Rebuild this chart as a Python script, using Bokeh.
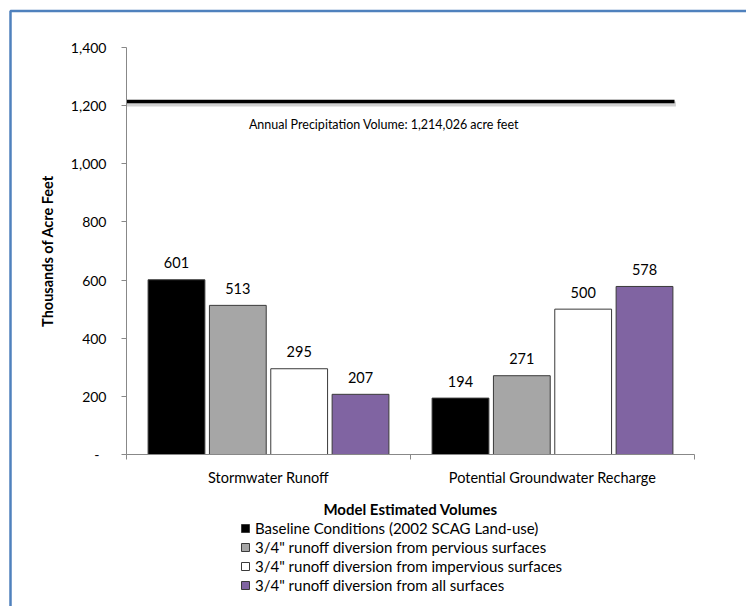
import numpy as np
from bokeh.plotting import figure
from bokeh.models import (Range1d, FixedTicker, NumeralTickFormatter, Legend,
                          LegendItem, Label, ColumnDataSource)
from bokeh.core.properties import value
from bokeh.embed import file_html
from bokeh.resources import INLINE

# ---------------- data ----------------
categories = ["Stormwater Runoff", "Potential Groundwater Recharge"]
series_names = [
    "Baseline Conditions (2002 SCAG Land-use)",
    '3/4" runoff diversion from pervious surfaces',
    '3/4" runoff diversion from impervious surfaces',
    '3/4" runoff diversion from all surfaces',
]
baseline = [601, 194]
pervious = [513, 271]
impervious = [295, 500]
all_surfaces = [207, 578]
series_values = [baseline, pervious, impervious, all_surfaces]
series_colors = ["#000000", "#A6A6A6", "#FFFFFF", "#8064A2"]
y_ticks = [0, 200, 400, 600, 800, 1000, 1200, 1400]
y_max = 1400
precip_volume = 1214.026
precip_label = "Annual Precipitation Volume:  1,214,026 acre feet"
y_title = "Thousands of Acre Feet"
legend_title = "Model Estimated Volumes"

# ---------------- layout (pixels) ----------------
W, H = 746, 606
AX_LEFT, AX_RIGHT = 126, 694      # x-axis extent on the page
AX_TOP, AX_BOTTOM = 47, 454       # y-axis extent on the page
ncat = len(categories)
px_per_x = (AX_RIGHT - AX_LEFT) / ncat
px_per_y = (AX_BOTTOM - AX_TOP) / y_max
x_start = -AX_LEFT / px_per_x
x_end = ncat + (W - AX_RIGHT) / px_per_x
y_start = -(H - AX_BOTTOM) / px_per_y
y_end = y_max + AX_TOP / px_per_y


def xpx(px):
    return x_start + px / px_per_x


def ypx(py):
    return y_end - py / px_per_y


FONT = "Lato"
AXIS_COLOR = "#888888"

p = figure(width=W, height=H, output_backend="svg", toolbar_location=None,
           x_range=Range1d(x_start, x_end), y_range=Range1d(y_start, y_end),
           min_border=0, min_border_left=0, min_border_right=0,
           min_border_top=0, min_border_bottom=0)
p.grid.visible = False
p.outline_line_color = None
p.background_fill_color = "white"
p.border_fill_color = "white"

# y axis (fixed at x = 0)
ya = p.yaxis[0]
ya.fixed_location = 0
ya.bounds = (0, y_max)
ya.ticker = FixedTicker(ticks=y_ticks, minor_ticks=[])
ya.formatter = NumeralTickFormatter(format="0,0")
ya.major_label_overrides = {0: "-\u00a0\u00a0"}
ya.axis_line_color = AXIS_COLOR
ya.major_tick_line_color = AXIS_COLOR
ya.major_tick_out = 5
ya.major_tick_in = 0
ya.major_label_standoff = 15
ya.major_label_text_font = FONT
ya.major_label_text_font_size = "14px"
ya.major_label_text_color = "#000000"
ya.axis_label = y_title
ya.axis_label_text_font = FONT
ya.axis_label_text_font_size = "14.5px"
ya.axis_label_text_font_style = "bold"
ya.axis_label_text_color = "#000000"
ya.axis_label_standoff = 12

# x axis (fixed at y = 0)
xa = p.xaxis[0]
xa.fixed_location = 0
xa.bounds = (0, ncat)
centers = [i + 0.5 for i in range(ncat)]
xa.ticker = FixedTicker(ticks=centers, minor_ticks=list(range(ncat + 1)))
xa.major_label_overrides = {c: lab for c, lab in zip(centers, categories)}
xa.axis_line_color = AXIS_COLOR
xa.major_tick_line_color = None
xa.major_tick_out = 0
xa.major_tick_in = 0
xa.minor_tick_line_color = AXIS_COLOR
xa.minor_tick_out = 5
xa.minor_tick_in = 0
xa.major_label_standoff = 9
xa.major_label_text_font = FONT
xa.major_label_text_font_size = "14.5px"
xa.major_label_text_color = "#000000"

# bars
pitch = 0.216
bar_w = 0.2
items = []
n = len(series_values)
for i, (vals, color, name) in enumerate(zip(series_values, series_colors, series_names)):
    off = (i - (n - 1) / 2) * pitch
    src = ColumnDataSource(dict(
        x=[k + 0.5 + off for k in range(ncat)],
        top=vals,
        label=[str(v) for v in vals],
    ))
    r = p.vbar(x="x", top="top", bottom=0, width=bar_w, fill_color=color,
               line_color="#3A3A3A", line_width=1, source=src)
    p.text(x="x", y="top", text="label", y_offset=-17, text_align="center",
           text_baseline="middle", text_font=value(FONT), text_font_size="14.5px",
           text_color="#000000", source=src)
    items.append(LegendItem(label=name, renderers=[r]))

# precipitation line
line_end = xpx(674)
p.segment(x0=[0], y0=[precip_volume - 8], x1=[line_end + 0.005], y1=[precip_volume - 8],
          line_color="#000000", line_alpha=0.18, line_width=5)
p.segment(x0=[0], y0=[precip_volume], x1=[line_end], y1=[precip_volume],
          line_color="#000000", line_width=3.5)
p.add_layout(Label(x=xpx(385), y=ypx(124), text=precip_label, text_align="center",
                   text_baseline="middle", text_font=FONT,
                   text_font_size="12.5px", text_color="#000000"))

# legend title + legend
p.add_layout(Label(x=ncat / 2, y=ypx(508), text=legend_title, text_align="center",
                   text_baseline="middle", text_font=FONT, text_font_size="15px",
                   text_font_style="bold", text_color="#000000"))
legend = Legend(items=items, location=(240, 12), padding=0, margin=0,
                border_line_color=None, background_fill_alpha=0,
                glyph_width=10, glyph_height=10, label_standoff=5,
                label_height=15, spacing=1,
                label_text_font=FONT, label_text_font_size="15px",
                label_text_color="#000000")
p.add_layout(legend, "center")

# blue chart-area border (left and top edges)
p.line(x=[xpx(10), xpx(10), xpx(W + 5)], y=[ypx(H + 5), ypx(10.5), ypx(10.5)],
       line_color="#4F81BD", line_width=2.5)

open("out.html", "w").write(file_html(p, INLINE))
